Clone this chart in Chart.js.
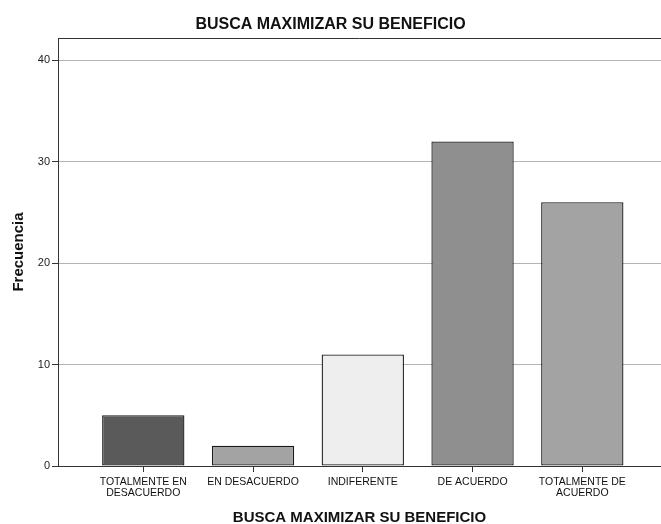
<!DOCTYPE html>
<html>
<head>
<meta charset="utf-8">
<script src="https://cdn.jsdelivr.net/npm/chart.js@4/dist/chart.umd.min.js"></script>
<style>
html,body{margin:0;padding:0;background:#fff;overflow:hidden;}
#wrap{width:661px;height:524px;position:relative;}
</style>
</head>
<body>
<div id="wrap"><canvas id="c" width="661" height="524"></canvas></div>
<script>
const categories = [["TOTALMENTE EN","DESACUERDO"],"EN DESACUERDO","INDIFERENTE","DE ACUERDO",["TOTALMENTE DE","ACUERDO"]];
const frecuencia = [5, 2, 11, 32, 26];
const barColors = ["#5a5a5a","#a3a3a3","#eeeeee","#8f8f8f","#a3a3a3"];
const yTicks = [0, 10, 20, 30, 40];

const frame = {
  id: 'frame',
  afterDatasetsDraw(chart) {
    const a = chart.chartArea, ctx = chart.ctx;
    ctx.save();
    ctx.strokeStyle = '#333';
    ctx.lineWidth = 1;
    ctx.beginPath();
    ctx.moveTo(a.left + 0.5, a.bottom);
    ctx.lineTo(a.left + 0.5, a.top + 0.5);
    ctx.lineTo(a.right, a.top + 0.5);
    ctx.stroke();
    ctx.restore();
  }
};

new Chart(document.getElementById('c'), {
  type: 'bar',
  data: {
    datasets: [{
      data: frecuencia.map((v, i) => ({x: i, y: v})),
      backgroundColor: barColors,
      borderColor: '#1a1a1a',
      borderWidth: 1.3,
      borderSkipped: false,
      barPercentage: 0.75,
      categoryPercentage: 1.0
    }]
  },
  options: {
    responsive: false,
    animation: false,
    layout: {padding: {left: 0, right: 0, top: 0, bottom: 0}},
    plugins: {
      legend: {display: false},
      tooltip: {enabled: false},
      title: {
        display: true,
        text: 'BUSCA MAXIMIZAR SU BENEFICIO',
        color: '#111',
        font: {family: 'Liberation Sans, Arial, sans-serif', size: 16, weight: 'bold', lineHeight: 1.2},
        padding: {top: 15, bottom: 3.8}
      }
    },
    scales: {
      x: {
        type: 'linear',
        offset: false,
        min: -0.777,
        max: 4.717,
        afterBuildTicks(scale) { scale.ticks = categories.map((_, i) => ({value: i})); },
        afterFit(scale) { scale.height = 58; },
        ticks: {
          autoSkip: false,
          maxRotation: 0,
          padding: 5,
          color: '#111',
          font: {family: 'Liberation Sans, Arial, sans-serif', size: 10.5, lineHeight: 1.0},
          callback: (v) => categories[v]
        },
        grid: {offset: false, drawOnChartArea: false, drawTicks: true, tickLength: 6, tickColor: '#333'},
        border: {display: true, color: '#333', width: 1},
        title: {
          display: true,
          text: 'BUSCA MAXIMIZAR SU BENEFICIO',
          color: '#111',
          font: {family: 'Liberation Sans, Arial, sans-serif', size: 15, weight: 'bold'},
          padding: {top: 10, bottom: -3}
        }
      },
      y: {
        min: 0,
        max: 42.2,
        afterBuildTicks(scale) { scale.ticks = yTicks.map(v => ({value: v})); },
        afterFit(scale) { scale.width = 58; },
        ticks: {
          color: '#222',
          padding: 2,
          font: {family: 'Liberation Sans, Arial, sans-serif', size: 11}
        },
        grid: {color: '#b4b4b4', lineWidth: 1, drawTicks: true, tickLength: 6, tickColor: '#333'},
        border: {display: true, color: '#333', width: 1},
        title: {
          display: true,
          text: 'Frecuencia',
          color: '#111',
          font: {family: 'Liberation Sans, Arial, sans-serif', size: 15, weight: 'bold'},
          padding: {top: 10, bottom: 4}
        }
      }
    }
  },
  plugins: [frame]
});
</script>
</body>
</html>
